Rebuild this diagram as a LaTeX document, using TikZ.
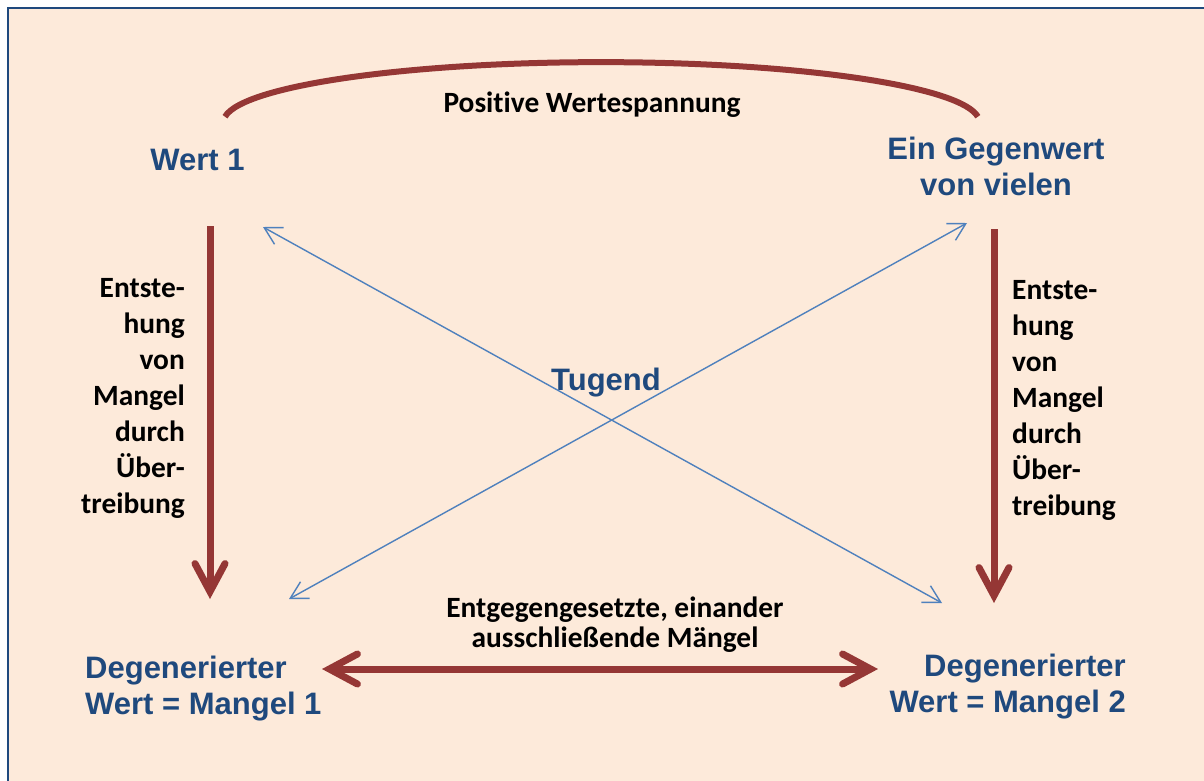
\documentclass[tikz,border=0pt]{standalone}
\usepackage{fontspec}
\setmainfont{Liberation Sans}
\newfontfamily\notefont[Ligatures=NoCommon]{Carlito}
\usetikzlibrary{arrows.meta}

\definecolor{paper}{HTML}{FDEADA}
\definecolor{frameblue}{HTML}{1F497D}
\definecolor{termblue}{HTML}{1F497D}
\definecolor{tensionred}{HTML}{953735}
\definecolor{linkblue}{HTML}{4F81BD}

\tikzset{
  bigtip/.tip={Straight Barb[length=28pt,width=30pt,line cap=round,line join=miter]},
  smalltip/.tip={Straight Barb[length=17pt,width=19pt]}
}

\begin{document}
\begin{tikzpicture}[x=1pt,y=-1pt,
  term/.style={font=\bfseries\fontsize{31}{36}\selectfont, text=termblue, inner sep=0pt},
  note/.style={font=\notefont\bfseries\fontsize{29.4}{36}\selectfont, text=black, inner sep=0pt},
  heavy/.style={draw=tensionred, line width=7pt},
  link/.style={draw=linkblue, line width=1.4pt, smalltip-smalltip}
]
  \useasboundingbox (0,0) rectangle (1204,780);
  \clip (0,0) rectangle (1204,780);

  % sheet with its frame
  \fill[white] (0,0) rectangle (1204,780);
  \draw[frameblue, line width=2pt, fill=paper] (8,8) rectangle (1230,810);

  % the four terms and the virtue in the middle (base = last line)
  \node[term, anchor=base] (wert) at (197.5,170) {Wert 1};
  \node[term, anchor=base, align=center] (gegen) at (996,195) {Ein Gegenwert\\von vielen};
  \node[term, anchor=base west, align=left] (mangelA) at (85,714) {Degenerierter\\Wert = Mangel 1};
  \node[term, anchor=base east, align=right] (mangelB) at (1126,712) {Degenerierter\\Wert = Mangel 2};
  \node[term, anchor=base] (tugend) at (606,390) {Tugend};

  % explanatory notes
  \node[note, anchor=base] (spannung) at (592,112) {Positive Wertespannung};
  \node[note, anchor=base, align=center, font=\notefont\bfseries\fontsize{29.4}{30}\selectfont] (gegensatz) at (615,647)
    {Entgegengesetzte, einander\\ausschließende Mängel};
  \node[note, anchor=base east, align=right] (uebertrA) at (185,513)
    {Entste-\\hung\\von\\Mangel\\durch\\Über-\\treibung};
  \node[note, anchor=base west, align=left] (uebertrB) at (1012,515)
    {Entste-\\hung\\von\\Mangel\\durch\\Über-\\treibung};

  % end points of the connectors
  \coordinate (arcL) at (225,116.7);
  \coordinate (downAtop) at (210,226);
  \coordinate (downAend) at (210,599);
  \coordinate (downBtop) at (994,229);
  \coordinate (downBend) at (994,603);
  \coordinate (crossL) at (322,669);
  \coordinate (crossR) at (878,669);
  \coordinate (xaLow) at (289,599);
  \coordinate (xaHigh) at (967,223);
  \coordinate (xbHigh) at (263,227);
  \coordinate (xbLow) at (942,603);

  % positive tension between the two values (y axis points down here)
  \draw[draw=tensionred, line width=6pt] (arcL) arc[start angle=185.2, end angle=354.8, x radius=378, y radius=60];

  % degeneration by exaggeration
  \draw[heavy, -bigtip] (downAtop) -- (downAend);
  \draw[heavy, -bigtip] (downBtop) -- (downBend);

  % mutually exclusive defects
  \draw[heavy, bigtip-bigtip] (crossL) -- (crossR);

  % the diagonal relations
  \draw[link] (xaLow) -- (xaHigh);
  \draw[link] (xbHigh) -- (xbLow);
\end{tikzpicture}
\end{document}
